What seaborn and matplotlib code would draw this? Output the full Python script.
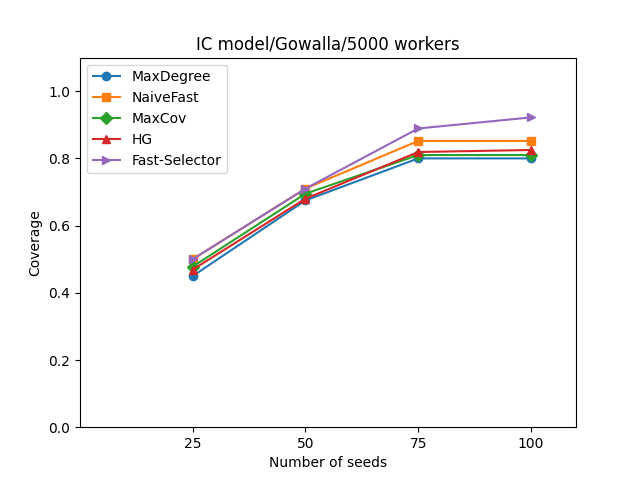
import matplotlib
matplotlib.use("Agg")
import matplotlib.pyplot as plt
import seaborn as sns

# number of seeds on the x axis
seeds = [25, 50, 75, 100]

# coverage
max_degree = [0.45, 0.675, 0.80, 0.80]
naive_fast = [0.50, 0.71, 0.852, 0.852]
max_cov = [0.478, 0.695, 0.81, 0.81]
hg = [0.469, 0.68, 0.819, 0.825]
fast_selector = [0.50, 0.71, 0.889, 0.922]

series = [
    ("MaxDegree", max_degree, "o", "#1f77b4"),
    ("NaiveFast", naive_fast, "s", "#ff7f0e"),
    ("MaxCov", max_cov, "D", "#2ca02c"),
    ("HG", hg, "^", "#d62728"),
    ("Fast-Selector", fast_selector, ">", "#9467bd"),
]

fig, ax = plt.subplots(figsize=(6.4, 4.8), dpi=100)
for name, vals, mk, col in series:
    sns.lineplot(x=seeds, y=vals, ax=ax, marker=mk, color=col, label=name,
                 markersize=6, markeredgecolor=col, markeredgewidth=1,
                 linewidth=1.5)

ax.set_xlim(0, 110)
ax.set_ylim(0, 1.1)
ax.set_xticks(seeds)
ax.set_xlabel("Number of seeds")
ax.set_ylabel("Coverage")
ax.set_title("IC model/Gowalla/5000 workers")
ax.legend(loc="upper left")

fig.savefig("out.png", dpi=100)
